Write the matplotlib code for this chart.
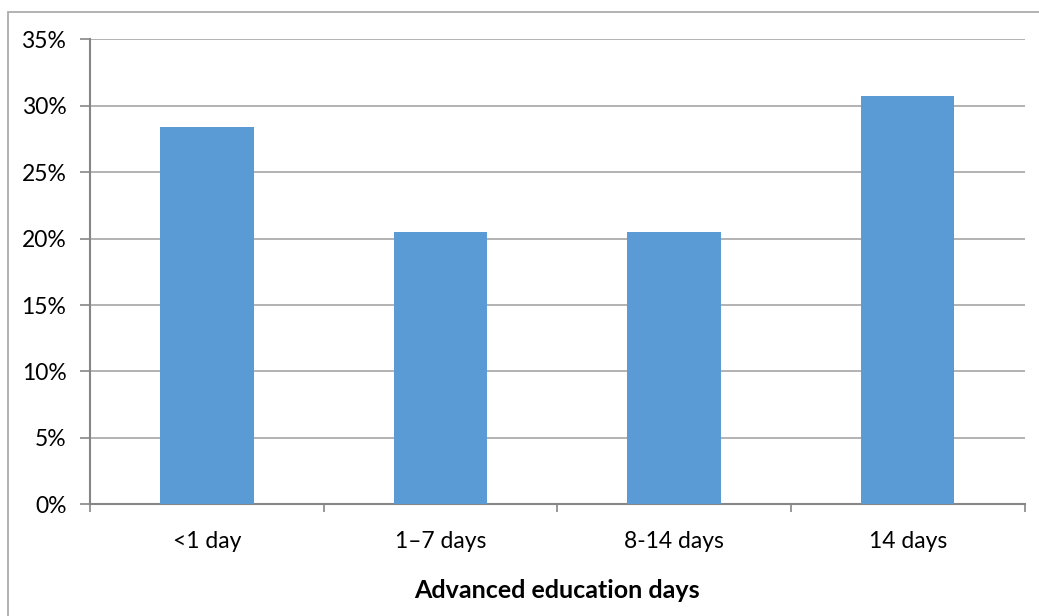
import matplotlib
matplotlib.use("Agg")
import matplotlib.pyplot as plt
from matplotlib.patches import Rectangle
from matplotlib.ticker import FuncFormatter

categories = ["<1 day", "1\u20137 days", "8-14 days", "14 days"]
shares = [28.4, 20.5, 20.5, 30.7]
y_ticks = [0, 5, 10, 15, 20, 25, 30, 35]

plt.rcParams['font.family'] = ['Lato', 'DejaVu Sans']

W, H = 1039, 616
fig = plt.figure(figsize=(W / 100, H / 100), dpi=100)
ax = fig.add_axes([90 / W, (H - 504.3) / H, (1024.5 - 90) / W, (504.3 - 39.3) / H])

# outer chart border
fig.patches.append(Rectangle((8 / W, -0.1), 1.2, (H - 12) / H + 0.1,
                             transform=fig.transFigure, fill=False,
                             edgecolor="#A6A6A6", linewidth=1.2))

pos = range(len(categories))
ax.bar(pos, shares, width=0.4, color="#5B9BD5", zorder=3)

ax.set_xlim(-0.5, len(categories) - 0.5)
ax.set_ylim(0, 35)
ax.set_yticks(y_ticks)
ax.yaxis.set_major_formatter(FuncFormatter(lambda v, p: "{:.0f}%".format(v)))
ax.set_xticks(list(pos))
ax.set_xticklabels(categories)
ax.set_xticks([i - 0.5 for i in range(len(categories) + 1)], minor=True)
ax.tick_params(axis="x", which="major", length=0, pad=19, labelsize=16.5)
ax.tick_params(axis="x", which="minor", length=6, color="#868686", width=1.2)
ax.tick_params(axis="y", length=7, color="#868686", width=1.2, pad=10, labelsize=16.5)

ax.grid(axis="y", color="#A6A6A6", linewidth=1.2, zorder=0)
for s in ["top", "right"]:
    ax.spines[s].set_visible(False)
for s in ["left", "bottom"]:
    ax.spines[s].set_color("#868686")
    ax.spines[s].set_linewidth(1.5)

ax.set_xlabel("Advanced education days", fontsize=18, fontweight="bold", labelpad=20)

fig.savefig("out.png", dpi=100)
